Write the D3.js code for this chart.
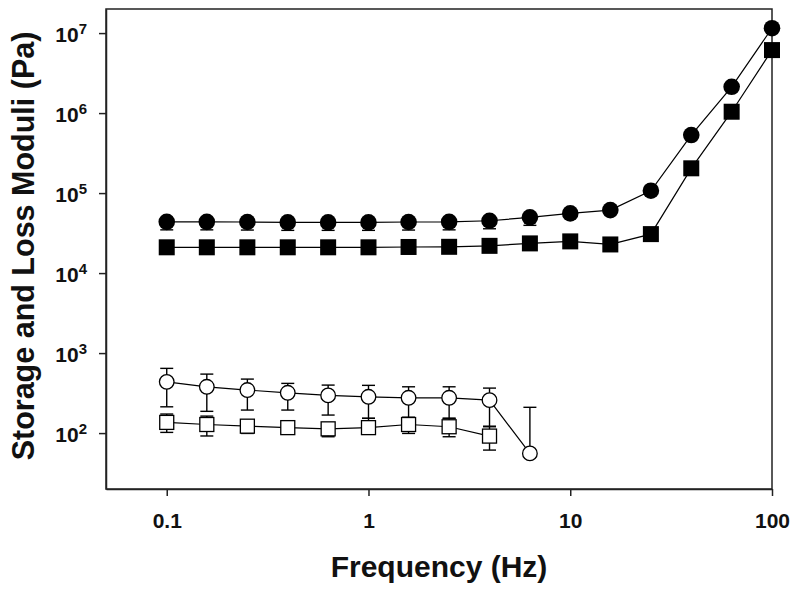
<!DOCTYPE html>
<html>
<head>
<meta charset="utf-8">
<script src="https://cdn.jsdelivr.net/npm/d3@7"></script>
<style>
  html, body { margin: 0; padding: 0; background: #fff; }
  svg { display: block; }
  text { font-family: "Liberation Sans", Arial, sans-serif; font-weight: bold; fill: #111; }
</style>
</head>
<body>
<svg id="chart" width="800" height="594"></svg>
<script>
// ---------- data ----------
const frequency = [0.1, 0.158, 0.251, 0.398, 0.631, 1, 1.58, 2.51, 3.98, 6.31, 10, 15.8, 25.1, 39.8, 63.1, 100];

// filled circles
const filledCircle = [43700, 43700, 43500, 43000, 43000, 43000, 43500, 43700, 45100, 49700, 55700, 61300, 107000, 531000, 2130000, 11500000];
const filledCircleLo = [34700, 34700, 34500, 34200, 34200, 34200, 34500, 34700, 35800, 39500, null, null, null, null, null, null];

// filled squares
const filledSquare = [21000, 21000, 21000, 21000, 21000, 21000, 21200, 21300, 21900, 23500, 24900, 22800, 30700, 204000, 1040000, 6130000];

// open circles (first 10 frequencies)
const openCircle   = [437, 379, 345, 319, 296, 284, 276, 276, 258, 55.7];
const openCircleHi = [644, 546, 473, 418, 398, 395, 379, 379, 365, 210];
const openCircleLo = [213, 187, 194, 194, 168, 153, 157, 153, 122, null];

// open squares (first 9 frequencies)
const openSquare   = [136, 128, 122, 117, 113, 117, 128, 120, 91.7];
const openSquareHi = [173, 163, 130, 125, 125, 153, 157, 153, 120];
const openSquareLo = [102, 92, 99, 105, 90, 105, 99, 90, 61.3];

const xTicks = [0.1, 1, 10, 100];
const xTickLabels = ["0.1", "1", "10", "100"];
const yTicks = [1e2, 1e3, 1e4, 1e5, 1e6, 1e7];
const yTickExponents = ["2", "3", "4", "5", "6", "7"];

const xTitle = "Frequency (Hz)";
const yTitle = "Storage and Loss Moduli (Pa)";

// ---------- layout ----------
const svg = d3.select("#chart");
const L = 106, R = 772, T = 9, B = 489;

const x = d3.scaleLog().domain([0.05, 100]).range([L, R]);
const y = d3.scaleLog().domain([20, 2e7]).range([B, T]);

// frame
svg.append("rect")
  .attr("x", L).attr("y", T).attr("width", R - L).attr("height", B - T)
  .attr("fill", "none").attr("stroke", "#222").attr("stroke-width", 1.5);

// x axis
const gx = svg.append("g").attr("transform", `translate(0,${B})`)
  .call(d3.axisBottom(x).tickValues(xTicks).tickSize(7).tickSizeOuter(0).tickFormat((d, i) => xTickLabels[i]));
gx.select(".domain").attr("stroke", "#222").attr("stroke-width", 1.5);
gx.selectAll(".tick line").attr("stroke", "#222").attr("stroke-width", 1.5);
gx.selectAll(".tick text")
  .attr("y", 38.5).attr("dy", 0)
  .style("font-size", "21px").style("font-family", "'Liberation Sans', Arial, sans-serif")
  .style("font-weight", "bold").attr("fill", "#111");

// y axis
const gy = svg.append("g").attr("transform", `translate(${L},0)`)
  .call(d3.axisLeft(y).tickValues(yTicks).tickSize(7).tickSizeOuter(0).tickFormat(() => ""));
gy.select(".domain").attr("stroke", "#222").attr("stroke-width", 1.5);
gy.selectAll(".tick line").attr("stroke", "#222").attr("stroke-width", 1.5);
gy.selectAll(".tick text").remove();
gy.selectAll(".tick").each(function(d) {
  const t = d3.select(this).append("text")
    .attr("x", -19).attr("y", 8)
    .attr("text-anchor", "end")
    .style("font-size", "21px");
  t.append("tspan").text("10");
  t.append("tspan").attr("dy", -8).style("font-size", "15px").text(yTickExponents[yTicks.indexOf(d)]);
});

// titles
svg.append("text")
  .attr("x", (L + R) / 2).attr("y", 577)
  .attr("text-anchor", "middle")
  .style("font-size", "30px")
  .text(xTitle);

svg.append("text")
  .attr("transform", `translate(34,246) rotate(-90)`)
  .attr("text-anchor", "middle")
  .style("font-size", "30.5px")
  .text(yTitle);

// ---------- series ----------
const line = d3.line().x(d => x(d[0])).y(d => y(d[1]));
const pairs = (vals) => vals.map((v, i) => [frequency[i], v]);

const series = [
  { vals: filledCircle, lo: filledCircleLo, hi: null, shape: "circle", filled: true },
  { vals: filledSquare, lo: null, hi: null, shape: "square", filled: true },
  { vals: openCircle, lo: openCircleLo, hi: openCircleHi, shape: "circle", filled: false },
  { vals: openSquare, lo: openSquareLo, hi: openSquareHi, shape: "square", filled: false },
];

const plot = svg.append("g");

// lines
series.forEach(s => {
  plot.append("path")
    .datum(pairs(s.vals))
    .attr("d", line)
    .attr("fill", "none")
    .attr("stroke", "#000")
    .attr("stroke-width", 1.2);
});

// error bars
const capHalf = 6.5;
series.forEach(s => {
  const g = plot.append("g").attr("stroke", "#000").attr("stroke-width", 1.4);
  s.vals.forEach((v, i) => {
    const cx = x(frequency[i]), cy = y(v);
    [s.hi ? s.hi[i] : null, s.lo ? s.lo[i] : null].forEach(e => {
      if (e == null) return;
      const ey = y(e);
      g.append("line").attr("x1", cx).attr("x2", cx).attr("y1", cy).attr("y2", ey);
      g.append("line").attr("x1", cx - capHalf).attr("x2", cx + capHalf).attr("y1", ey).attr("y2", ey);
    });
  });
});

// markers
series.forEach(s => {
  const g = plot.append("g");
  s.vals.forEach((v, i) => {
    const cx = x(frequency[i]), cy = y(v);
    if (s.shape === "circle") {
      const r = s.filled ? 8.3 : 7.3;
      g.append("circle").attr("cx", cx).attr("cy", cy).attr("r", r)
        .attr("fill", s.filled ? "#000" : "#fff")
        .attr("stroke", "#000").attr("stroke-width", s.filled ? 0 : 1.3);
    } else {
      const h = s.filled ? 8 : 7;
      g.append("rect").attr("x", cx - h).attr("y", cy - h).attr("width", 2 * h).attr("height", 2 * h)
        .attr("fill", s.filled ? "#000" : "#fff")
        .attr("stroke", "#000").attr("stroke-width", s.filled ? 0 : 1.3);
    }
  });
});
</script>
</body>
</html>
